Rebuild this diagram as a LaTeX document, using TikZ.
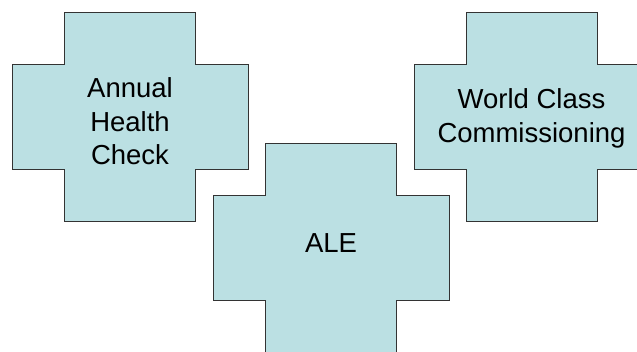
\documentclass[tikz,border=0pt]{standalone}
\usepackage{fontspec}
\setmainfont{Liberation Sans}
\begin{document}
\begin{tikzpicture}[x=1pt,y=-1pt,
  crossfill/.style={fill=crossblue,draw=crossline,line width=0.9pt,line join=miter},
  label/.style={align=center,font=\fontsize{27.5}{33.5}\selectfont,text=black,inner sep=0pt},
  pics/crossbox/.style={code={
    \draw[crossfill] (-65.5,-104.5) -- (65.5,-104.5) -- (65.5,-52.5) -- (118,-52.5)
      -- (118,52.5) -- (65.5,52.5) -- (65.5,104.5) -- (-65.5,104.5) -- (-65.5,52.5)
      -- (-118,52.5) -- (-118,-52.5) -- (-65.5,-52.5) -- cycle;
  }}]
\definecolor{crossblue}{HTML}{BBE0E3}
\definecolor{crossline}{HTML}{333333}
\useasboundingbox (0,0) rectangle (637,351);
\begin{scope}
  \clip (0,0) rectangle (637,351);
  \pic (health) at (130,116.5) {crossbox};
  \pic (wcc) at (532,116.5) {crossbox};
  \pic (ale) at (331,247.5) {crossbox};
\end{scope}
\node[label] (healthtext) at (130,121.5) {Annual\\Health\\Check};
\node[label] (wcctext) at (531.5,118.5) {World Class\\Commissioning};
\node[label] (aletext) at (331,243) {ALE};
\end{tikzpicture}
\end{document}
